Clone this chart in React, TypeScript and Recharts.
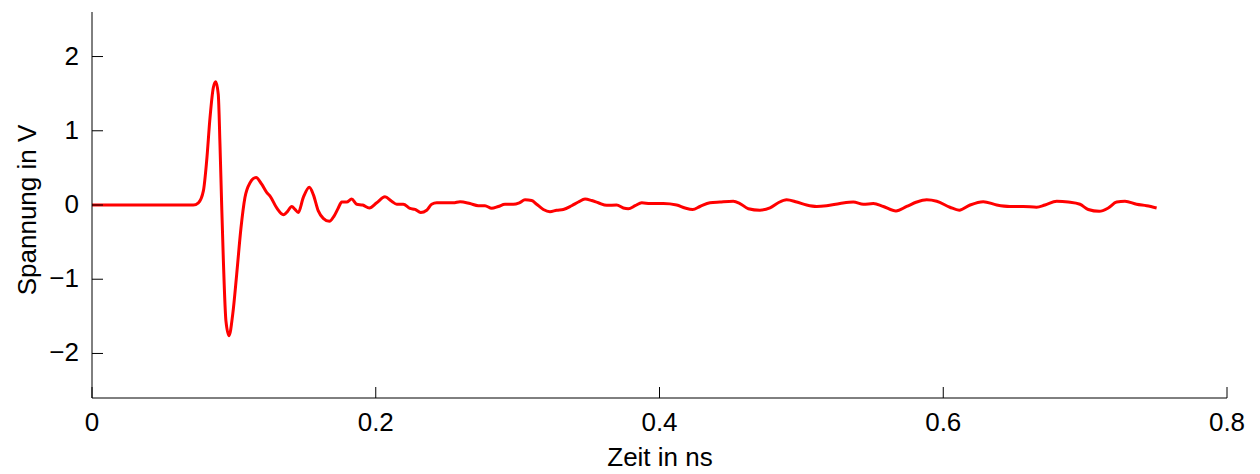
import { LineChart, Line, XAxis, YAxis } from 'recharts';

// Zeit in ns
const timeNs: number[] = [
  0, 0.05, 0.0714, 0.075, 0.0785, 0.0808, 0.0832, 0.0855, 0.0872, 0.089,
  0.0902, 0.0914, 0.0926, 0.0944, 0.0966, 0.0992, 0.102, 0.105, 0.1078, 0.1114,
  0.1156, 0.1196, 0.1231, 0.1255, 0.1302, 0.1349, 0.1372, 0.1408, 0.1431, 0.1454,
  0.1489, 0.1532, 0.156, 0.1595, 0.163, 0.1673, 0.1706, 0.1736, 0.176, 0.1795,
  0.183, 0.1866, 0.1908, 0.1955, 0.2007, 0.2065, 0.2112, 0.2148, 0.2194, 0.2241,
  0.2277, 0.2317, 0.2359, 0.2394, 0.243, 0.25, 0.2547, 0.2594, 0.2664, 0.2723,
  0.277, 0.2817, 0.2864, 0.2911, 0.297, 0.3012, 0.3052, 0.3099, 0.3134, 0.3181,
  0.3228, 0.3275, 0.3322, 0.3381, 0.3428, 0.3475, 0.3522, 0.3569, 0.3628, 0.3698,
  0.3745, 0.378, 0.3828, 0.3875, 0.3934, 0.4027, 0.4121, 0.418, 0.4234, 0.4285,
  0.4356, 0.4426, 0.452, 0.4567, 0.4626, 0.4708, 0.4779, 0.4837, 0.4896, 0.4967,
  0.5037, 0.5108, 0.5178, 0.5272, 0.5366, 0.5437, 0.5507, 0.5578, 0.5667, 0.5742,
  0.5813, 0.5883, 0.5954, 0.6047, 0.6113, 0.6189, 0.6282, 0.6377, 0.647, 0.6564,
  0.6658, 0.6717, 0.68, 0.6881, 0.6964, 0.7022, 0.71, 0.7163, 0.7222, 0.7281,
  0.7363, 0.7434, 0.7504,
];

// Spannung in V
const voltage: number[] = [
  0, 0, 0, 0.03, 0.19, 0.59, 1.18, 1.58, 1.66, 1.49,
  0.82, 0.0, -0.75, -1.56, -1.76, -1.47, -0.93, -0.31, 0.1, 0.3,
  0.37, 0.28, 0.17, 0.12, -0.04, -0.13, -0.1, -0.02, -0.06, -0.1,
  0.1, 0.24, 0.14, -0.08, -0.18, -0.22, -0.15, -0.04, 0.04, 0.04,
  0.08, 0.01, 0.0, -0.04, 0.03, 0.11, 0.05, 0.01, 0.01, -0.045,
  -0.06, -0.1, -0.07, 0.01, 0.03, 0.03, 0.03, 0.045, 0.02, -0.01,
  -0.01, -0.045, -0.02, 0.01, 0.01, 0.03, 0.07, 0.06, 0.01, -0.06,
  -0.09, -0.07, -0.06, -0.01, 0.04, 0.08, 0.06, 0.03, -0.005, 0,
  -0.04, -0.05, -0.01, 0.03, 0.02, 0.02, 0, -0.04, -0.06, -0.02,
  0.03, 0.04, 0.05, 0.02, -0.05, -0.07, -0.04, 0.03, 0.07, 0.04,
  0, -0.02, -0.01, 0.02, 0.04, 0.01, 0.02, -0.02, -0.08, -0.02,
  0.04, 0.07, 0.05, -0.03, -0.07, 0, 0.045, 0, -0.02, -0.02,
  -0.03, 0, 0.05, 0.04, 0.01, -0.06, -0.085, -0.04, 0.04, 0.05,
  0.01, -0.01, -0.04,
];

const xTicks = [0, 0.2, 0.4, 0.6, 0.8];
const yTicks = [-2, -1, 0, 1, 2];

const data = timeNs.map((t, i) => ({ t, v: voltage[i] }));

const FONT = '"Liberation Sans", Arial, sans-serif';
const TICK_LEN = 11;
const PLOT_LEFT = 92;
const PLOT_BOTTOM = 398;

const fmt = (v: number) => (v < 0 ? `\u2212${Math.abs(v)}` : `${v}`);

// ticks point inward, matlab style
const XTick = ({ x, payload }: any) => (
  <g>
    <line x1={x} y1={PLOT_BOTTOM} x2={x} y2={PLOT_BOTTOM - TICK_LEN} stroke="#000" strokeWidth={1} />
    <text x={x} y={PLOT_BOTTOM + 33} textAnchor="middle" fontFamily={FONT} fontSize={26} fill="#000">
      {fmt(payload.value)}
    </text>
  </g>
);

const YTick = ({ y, payload }: any) => (
  <g>
    <line x1={PLOT_LEFT} y1={y} x2={PLOT_LEFT + TICK_LEN} y2={y} stroke="#000" strokeWidth={1} />
    <text x={79} y={y} dy={8} textAnchor="end" fontFamily={FONT} fontSize={26} fill="#000">
      {fmt(payload.value)}
    </text>
  </g>
);

export default function App() {
  return (
    <div style={{ position: 'absolute', left: 0, top: 0, width: 1260, height: 474, background: '#fff' }}>
      <LineChart width={1260} height={474} data={data} margin={{ top: 12, right: 33, bottom: 0, left: 0 }}>
        <XAxis
          dataKey="t"
          type="number"
          domain={[0, 0.8]}
          ticks={xTicks}
          interval={0}
          height={76}
          tickSize={0}
          tickMargin={0}
          tickLine={false}
          axisLine={{ stroke: '#000', strokeWidth: 1 }}
          tick={<XTick />}
        />
        <YAxis
          type="number"
          domain={[-2.6, 2.6]}
          ticks={yTicks}
          interval={0}
          width={92}
          allowDataOverflow
          tickSize={0}
          tickMargin={0}
          tickLine={false}
          axisLine={{ stroke: '#000', strokeWidth: 1 }}
          tick={<YTick />}
        />
        <Line
          dataKey="v"
          type="monotone"
          stroke="#ff0000"
          strokeWidth={3}
          dot={false}
          isAnimationActive={false}
        />
        <text x={660} y={466} textAnchor="middle" fontFamily={FONT} fontSize={26} fill="#000">
          Zeit in ns
        </text>
        <text
          x={36}
          y={210}
          textAnchor="middle"
          fontFamily={FONT}
          fontSize={26}
          fill="#000"
          transform="rotate(-90 36 210)"
        >
          Spannung in V
        </text>
      </LineChart>
    </div>
  );
}
